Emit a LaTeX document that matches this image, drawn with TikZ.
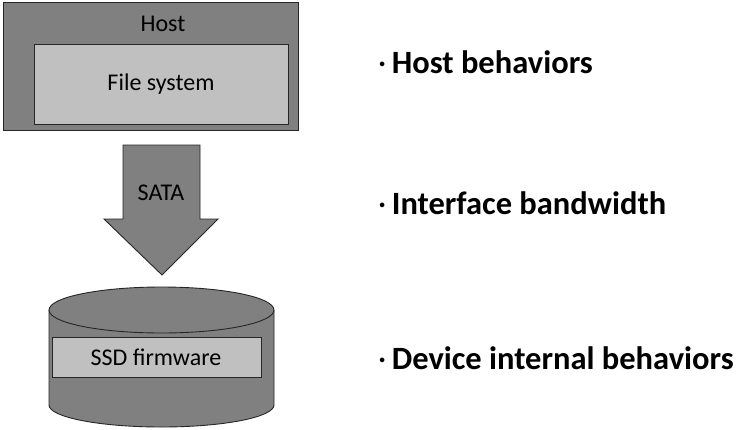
\documentclass[tikz,border=0pt]{standalone}
\usepackage{fontspec}
\setmainfont{Carlito}
\usepackage{tikz}

\definecolor{darkfill}{RGB}{128,128,128}
\definecolor{lightfill}{RGB}{192,192,192}

\begin{document}
\begin{tikzpicture}[x=1pt, y=-1pt,
		outline/.style={draw=black!85, line width=0.9pt},
		label/.style={font=\fontsize{24}{28}\selectfont, inner sep=0pt},
		point/.style={font=\fontsize{32.5}{38}\selectfont\bfseries, anchor=west, inner sep=0pt}]
		\useasboundingbox (0,0) rectangle (738,429);
		% host
		\draw[outline, fill=darkfill] (3,2) rectangle (298,130);
		\node[label] (host) at (163,24) {Host};
		\draw[outline, fill=lightfill] (34,44) rectangle (288,124);
		\node[label] (fs) at (161,84) {File system};
		% interface
		\draw[outline, fill=darkfill] (123,145) -- (200,145) -- (200,219) -- (218,219)
			-- (162,275) -- (104,219) -- (123,219) -- cycle;
		\node[label] (sata) at (161,193) {SATA};
		% device
		\draw[outline, fill=darkfill] (49,310) -- (49,405)
			arc[start angle=180, end angle=360, x radius=112.5pt, y radius=22pt]
			-- (274,310);
		\draw[outline, fill=darkfill] (161.5,310) ellipse[x radius=112.5pt, y radius=23pt];
		\draw[outline, fill=lightfill] (52,337) rectangle (261,377);
		\node[label] (fw) at (156,357) {SSD firmware};
		% factors
		\node[point] (p1) at (378,62) {\mdseries·\,\bfseries Host behaviors};
		\node[point] (p2) at (378,203) {\mdseries·\,\bfseries Interface bandwidth};
		\node[point] (p3) at (378,358) {\mdseries·\,\bfseries Device internal behaviors};
	\end{tikzpicture}
\end{document}
